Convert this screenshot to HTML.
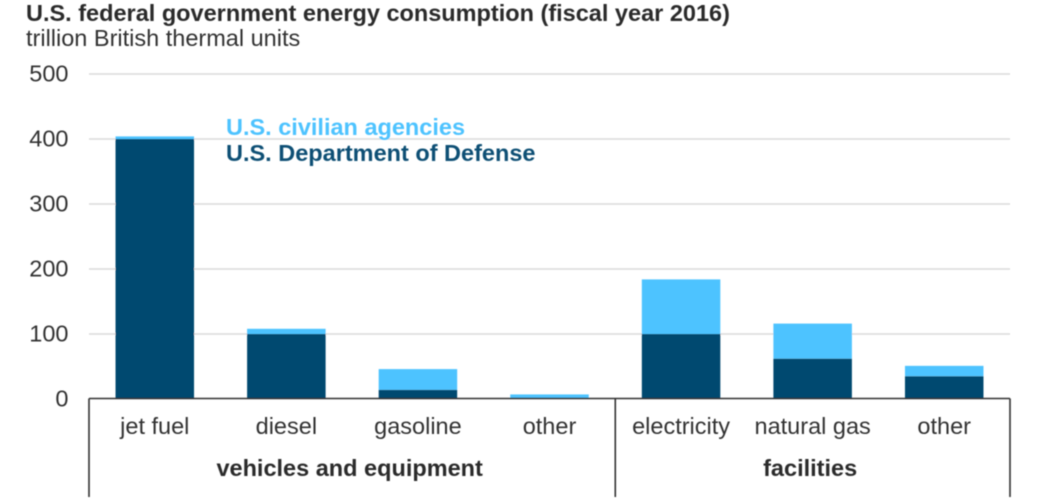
<!DOCTYPE html>
<html lang="en">
<head>
<meta charset="utf-8">
<title>U.S. federal government energy consumption (fiscal year 2016)</title>
<style>
html,body{margin:0;padding:0;background:#fff;width:1056px;height:500px;overflow:hidden}
svg{display:block;font-family:"Liberation Sans",Arial,sans-serif}
</style>
</head>
<body>
<svg id="chart" width="1056" height="500" viewBox="0 0 1056 500" xmlns="http://www.w3.org/2000/svg">
  <defs><filter id="soft" x="-2%" y="-2%" width="104%" height="104%"><feGaussianBlur stdDeviation="0.55"/></filter></defs>
  <g id="root" filter="url(#soft)">
    <text x="26" y="21" font-size="23.5" font-weight="700" fill="#2b2b2b">U.S. federal government energy consumption (fiscal year 2016)</text>
    <text x="26" y="46" font-size="23.5" fill="#333">trillion British thermal units</text>
    <g id="grid"></g>
    <g id="yticks"></g>
    <g id="bars"></g>
    <g id="axis"></g>
    <g id="xlabels"></g>
    <text x="226" y="135" font-size="23.5" font-weight="700" fill="#4dc3ff">U.S. civilian agencies</text>
    <text x="226" y="161" font-size="23.5" font-weight="700" fill="#0d4f75">U.S. Department of Defense</text>
  </g>
</svg>
<script>
const categories = ["jet fuel", "diesel", "gasoline", "other", "electricity", "natural gas", "other"];
const defenseValues = [400, 100, 14, 2, 100, 62, 35];
const civilianValues = [4, 8, 32, 5, 84, 54, 16];
const yTicks = [0, 100, 200, 300, 400, 500];
const groupNames = ["vehicles and equipment", "facilities"];
const groupSizes = [4, 3];

const NS = "http://www.w3.org/2000/svg";
const plotLeft = 89, plotRight = 1010, plotBottom = 399, plotTop = 74, yMax = 500;
const bandWidth = (plotRight - plotLeft) / categories.length;
const barWidth = 78.5;
const yScale = v => plotBottom - (v / yMax) * (plotBottom - plotTop);
const bandLeft = i => plotLeft + i * bandWidth;
const bandCenter = i => bandLeft(i) + bandWidth / 2;

function make(tag, attrs, parent, txt) {
  const el = document.createElementNS(NS, tag);
  for (const k in attrs) el.setAttribute(k, attrs[k]);
  if (txt !== undefined) el.textContent = txt;
  parent.appendChild(el);
  return el;
}

const gridG = document.getElementById("grid");
const yG = document.getElementById("yticks");
yTicks.forEach(t => {
  if (t > 0) {
    const line = make("line", {x1: plotLeft, x2: plotRight, y1: yScale(t), y2: yScale(t), stroke: "#d9d9d9", "stroke-width": 1.6}, gridG);
    
    
  }
  const label = make("text", {x: 68.5, y: yScale(t) + 7.5, "text-anchor": "end", "font-size": 23.5, fill: "#333"}, yG, String(t));
  
  
});

const barsG = document.getElementById("bars");
categories.forEach((c, i) => {
  const x = bandCenter(i) - barWidth / 2;
  const d = defenseValues[i], v = civilianValues[i];
  const civ = make("rect", {x: x, width: barWidth, y: yScale(d + v), height: yScale(d) - yScale(d + v), fill: "#4dc3ff"}, barsG);
  
  
  const def = make("rect", {x: x, width: barWidth, y: yScale(d), height: plotBottom - yScale(d), fill: "#004a70"}, barsG);
  
  
});

const axisG = document.getElementById("axis");
const baseline = make("line", {x1: plotLeft, x2: plotRight, y1: plotBottom - 0.5, y2: plotBottom - 0.5, stroke: "#333", "stroke-width": 1.6}, axisG);



const xG = document.getElementById("xlabels");
categories.forEach((c, i) => {
  const label = make("text", {x: bandCenter(i), y: 434, "text-anchor": "middle", "font-size": 23.5, fill: "#333"}, xG, c);
  
  
});

let start = 0;
function divider(index) {
  const x = bandLeft(index);
  const d = make("line", {x1: x, x2: x, y1: plotBottom - 0.5, y2: 497, stroke: "#333", "stroke-width": 1.6}, axisG);
  
  
}
divider(0);
groupNames.forEach((g, i) => {
  const end = start + groupSizes[i];
  const label = make("text", {x: (bandLeft(start) + bandLeft(end)) / 2 - 2.5, y: 476, "text-anchor": "middle", "font-size": 23.5, "font-weight": 700, fill: "#2b2b2b"}, xG, g);
  
  
  divider(end);
  start = end;
});
</script>
</body>
</html>
